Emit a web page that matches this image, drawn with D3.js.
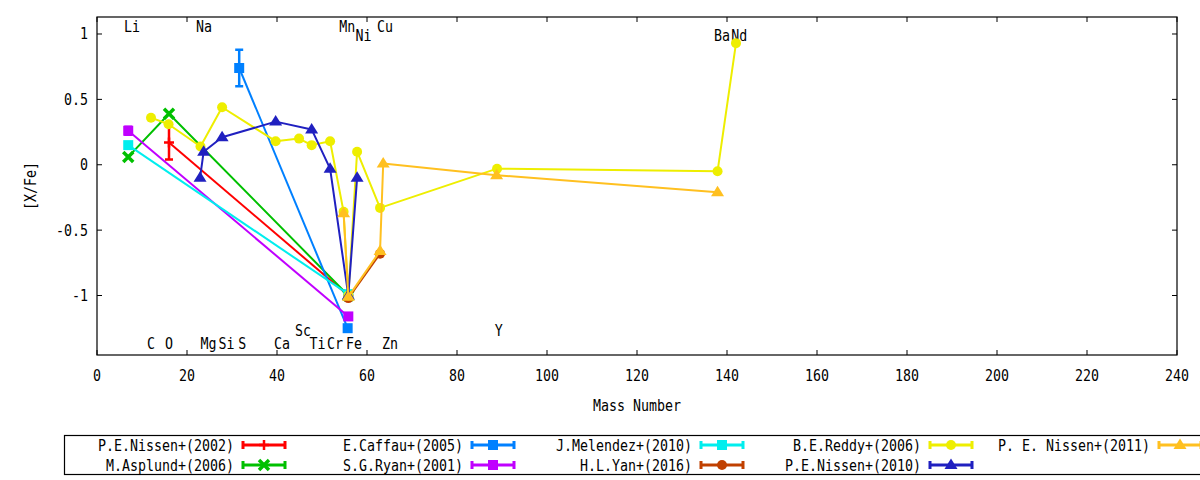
<!DOCTYPE html>
<html>
<head>
<meta charset="utf-8">
<script src="https://cdn.jsdelivr.net/npm/d3@7"></script>
<style>
body { margin: 0; background: #fff; }
text { font-family: "DejaVu Sans Mono", monospace; font-size: 16px; fill: #000; }
</style>
</head>
<body>
<svg id="chart" width="1200" height="480"></svg>
<script>

// x ticks / y ticks
const xTicks = [0, 20, 40, 60, 80, 100, 120, 140, 160, 180, 200, 220, 240];
const yTicks = [1, 0.5, 0, -0.5, -1];

// element labels: name, mass position, [X/Fe] position
const elemNames = ["Li", "Na", "Mn", "Ni", "Cu", "Ba", "Nd", "C", "O", "Mg", "Si", "S", "Ca", "Ti", "Cr", "Fe", "Zn", "Sc", "Y"];
const elemMass  = [7.8, 23.8, 55.6, 59.2, 64.0, 138.9, 142.7, 12.0, 16.0, 24.8, 28.8, 32.3, 41.1, 49.0, 52.9, 57.1, 65.1, 45.8, 89.3];
const elemPos   = [1.06, 1.06, 1.06, 0.985, 1.06, 0.985, 0.985, -1.37, -1.37, -1.37, -1.37, -1.37, -1.37, -1.37, -1.37, -1.37, -1.37, -1.265, -1.265];

// series
const seriesNames = ["P.E.Nissen+(2002)", "M.Asplund+(2006)", "E.Caffau+(2005)", "S.G.Ryan+(2001)",
    "J.Melendez+(2010)", "H.L.Yan+(2016)", "B.E.Reddy+(2006)", "P.E.Nissen+(2010)", "P. E. Nissen+(2011)"];

const nissen2002Mass = [16, 55.85];
const nissen2002Val  = [0.17, -1.0];
const nissen2002Err  = [0.13, 0];

const asplund2006Mass = [6.94, 16, 55.85];
const asplund2006Val  = [0.06, 0.39, -1.0];
const asplund2006Err  = [0, 0, 0];

const caffau2005Mass = [31.6, 55.7];
const caffau2005Val  = [0.74, -1.25];
const caffau2005Err  = [0.14, 0];

const ryan2001Mass = [6.94, 55.85];
const ryan2001Val  = [0.26, -1.16];
const ryan2001Err  = [0.03, 0];

const melendez2010Mass = [6.94, 55.85];
const melendez2010Val  = [0.15, -0.99];
const melendez2010Err  = [0, 0];

const yan2016Mass = [55.85, 62.9];
const yan2016Val  = [-1.02, -0.68];
const yan2016Err  = [0, 0];

const reddy2006Mass = [12, 15.9, 23, 27.8, 39.7, 44.9, 47.7, 51.8, 54.8, 55.85, 57.8, 62.9, 88.9, 137.9, 142];
const reddy2006Val  = [0.36, 0.31, 0.14, 0.44, 0.18, 0.20, 0.15, 0.18, -0.36, -1.0, 0.10, -0.33, -0.03, -0.05, 0.93];
const reddy2006Err  = [0, 0, 0, 0, 0, 0, 0, 0, 0, 0, 0, 0, 0, 0, 0];

const nissen2010Mass = [22.9, 23.7, 27.8, 39.7, 47.7, 51.8, 55.85, 57.8];
const nissen2010Val  = [-0.10, 0.10, 0.21, 0.33, 0.27, -0.03, -1.0, -0.10];
const nissen2010Err  = [0, 0, 0, 0, 0, 0, 0, 0];

const nissen2011Mass = [54.8, 55.85, 62.9, 63.6, 88.8, 137.9];
const nissen2011Val  = [-0.37, -1.01, -0.66, 0.01, -0.08, -0.21];
const nissen2011Err  = [0, 0, 0, 0, 0, 0];

const seriesColors = ["#ff0000", "#00c000", "#0080ff", "#c000ff", "#00eeee", "#c04000", "#eeee00", "#2020c0", "#ffc020"];
const seriesMarks  = ["plus", "cross", "square", "square", "square", "circle", "circle", "triangle", "triangle"];

const seriesData = [
    [nissen2002Mass, nissen2002Val, nissen2002Err],
    [asplund2006Mass, asplund2006Val, asplund2006Err],
    [caffau2005Mass, caffau2005Val, caffau2005Err],
    [ryan2001Mass, ryan2001Val, ryan2001Err],
    [melendez2010Mass, melendez2010Val, melendez2010Err],
    [yan2016Mass, yan2016Val, yan2016Err],
    [reddy2006Mass, reddy2006Val, reddy2006Err],
    [nissen2010Mass, nissen2010Val, nissen2010Err],
    [nissen2011Mass, nissen2011Val, nissen2011Err]
];


const margin = {top: 17, right: 23, bottom: 125, left: 97};
const width = 1200 - margin.left - margin.right;
const height = 480 - margin.top - margin.bottom;

const svg = d3.select("#chart");

const xScale = d3.scaleLinear().domain([0, 240]).range([0, width]);
const yScale = d3.scaleLinear().domain([-1.455, 1.13]).range([height, 0]);

const plot = svg.append("g")
    .attr("transform", `translate(${margin.left},${margin.top})`);

// squeeze the mono font to gnuplot's narrow look
function squeeze(sel) {
    sel.attr("textLength", function() { return this.textContent.length * 8; })
        .attr("lengthAdjust", "spacingAndGlyphs");
}

// axes (ticks pointing inward, mirrored)
const tickLen = 5;

xTicks.forEach(t => {
    let x = xScale(t);
    plot.append("line").attr("x1", x).attr("x2", x).attr("y1", height).attr("y2", height - tickLen)
        .attr("stroke", "#000");
    plot.append("line").attr("x1", x).attr("x2", x).attr("y1", 0).attr("y2", tickLen)
        .attr("stroke", "#000");
    plot.append("text").attr("x", x).attr("y", height + 20)
        .attr("text-anchor", "middle").attr("dominant-baseline", "central")
        .text(t).call(squeeze);
});

yTicks.forEach(t => {
    let y = yScale(t);
    plot.append("line").attr("x1", 0).attr("x2", tickLen).attr("y1", y).attr("y2", y)
        .attr("stroke", "#000");
    plot.append("line").attr("x1", width).attr("x2", width - tickLen).attr("y1", y).attr("y2", y)
        .attr("stroke", "#000");
    plot.append("text").attr("x", -9).attr("y", y)
        .attr("text-anchor", "end").attr("dominant-baseline", "central")
        .text(t).call(squeeze);
});

plot.append("rect")
    .attr("width", width).attr("height", height)
    .attr("fill", "none").attr("stroke", "#000").attr("stroke-width", 1.2);

svg.append("text")
    .attr("x", margin.left + width / 2).attr("y", 405)
    .attr("text-anchor", "middle").attr("dominant-baseline", "central")
    .text("Mass Number").call(squeeze);

svg.append("text")
    .attr("transform", "translate(30,186) rotate(-90)")
    .attr("text-anchor", "middle").attr("dominant-baseline", "central")
    .text("[X/Fe]").call(squeeze);

// element labels
elemNames.forEach((n, i) => {
    plot.append("text")
        .attr("x", xScale(elemMass[i])).attr("y", yScale(elemPos[i]))
        .attr("text-anchor", "middle").attr("dominant-baseline", "central")
        .text(n).call(squeeze);
});


function drawMarker(g, type, x, y, color) {
    if (type === "plus") {
        g.append("path").attr("d", `M${x - 5},${y}H${x + 5}M${x},${y - 5}V${y + 5}`)
            .attr("stroke", color).attr("stroke-width", 2.5);
    } else if (type === "cross") {
        g.append("path").attr("d", `M${x - 5},${y - 5}L${x + 5},${y + 5}M${x - 5},${y + 5}L${x + 5},${y - 5}`)
            .attr("stroke", color).attr("stroke-width", 3.5);
    } else if (type === "square") {
        g.append("rect").attr("x", x - 5).attr("y", y - 5).attr("width", 10).attr("height", 10)
            .attr("fill", color);
    } else if (type === "circle") {
        g.append("circle").attr("cx", x).attr("cy", y).attr("r", 5).attr("fill", color);
    } else if (type === "triangle") {
        g.append("path").attr("d", `M${x},${y - 6.5}L${x + 6.5},${y + 4}L${x - 6.5},${y + 4}Z`)
            .attr("fill", color);
    }
}

const line = d3.line()
    .x(d => xScale(d.mass))
    .y(d => yScale(d.val));

seriesData.forEach((s, k) => {
    let pts = s[0].map((m, i) => ({mass: m, val: s[1][i], err: s[2][i]}));
    let color = seriesColors[k];
    let g = plot.append("g").attr("class", "series");

    g.append("path").datum(pts)
        .attr("d", line)
        .attr("fill", "none")
        .attr("stroke", color)
        .attr("stroke-width", 2)
        .attr("stroke-linejoin", "round");

    pts.forEach(p => {
        let x = xScale(p.mass);
        if (p.err > 0) {
            let y1 = yScale(p.val + p.err), y2 = yScale(p.val - p.err);
            g.append("path")
                .attr("d", `M${x},${y1}V${y2}M${x - 4},${y1}H${x + 4}M${x - 4},${y2}H${x + 4}`)
                .attr("stroke", color).attr("stroke-width", 2.5).attr("fill", "none");
        }
        drawMarker(g, seriesMarks[k], x, yScale(p.val), color);
    });
});


// legend
const legend = svg.append("g").attr("class", "legend");

legend.append("rect")
    .attr("x", 64.5).attr("y", 435.5)
    .attr("width", 1160).attr("height", 39)
    .attr("fill", "none").attr("stroke", "#000").attr("stroke-width", 1.2);

seriesNames.forEach((n, i) => {
    let col = Math.floor(i / 2), row = i % 2;
    let xEnd = 234 + col * 229;
    let y = 445 + row * 20;
    let color = seriesColors[i];

    legend.append("text")
        .attr("x", xEnd).attr("y", y)
        .attr("text-anchor", "end").attr("dominant-baseline", "central")
        .text(n).call(squeeze);

    let x1 = xEnd + 9, x2 = xEnd + 51, xm = (x1 + x2) / 2;
    legend.append("path")
        .attr("d", `M${x1},${y}H${x2}M${x1},${y - 4}V${y + 4}M${x2},${y - 4}V${y + 4}`)
        .attr("stroke", color).attr("stroke-width", 3).attr("fill", "none");
    drawMarker(legend, seriesMarks[i], xm, y, color);
});

</script>
</body>
</html>
